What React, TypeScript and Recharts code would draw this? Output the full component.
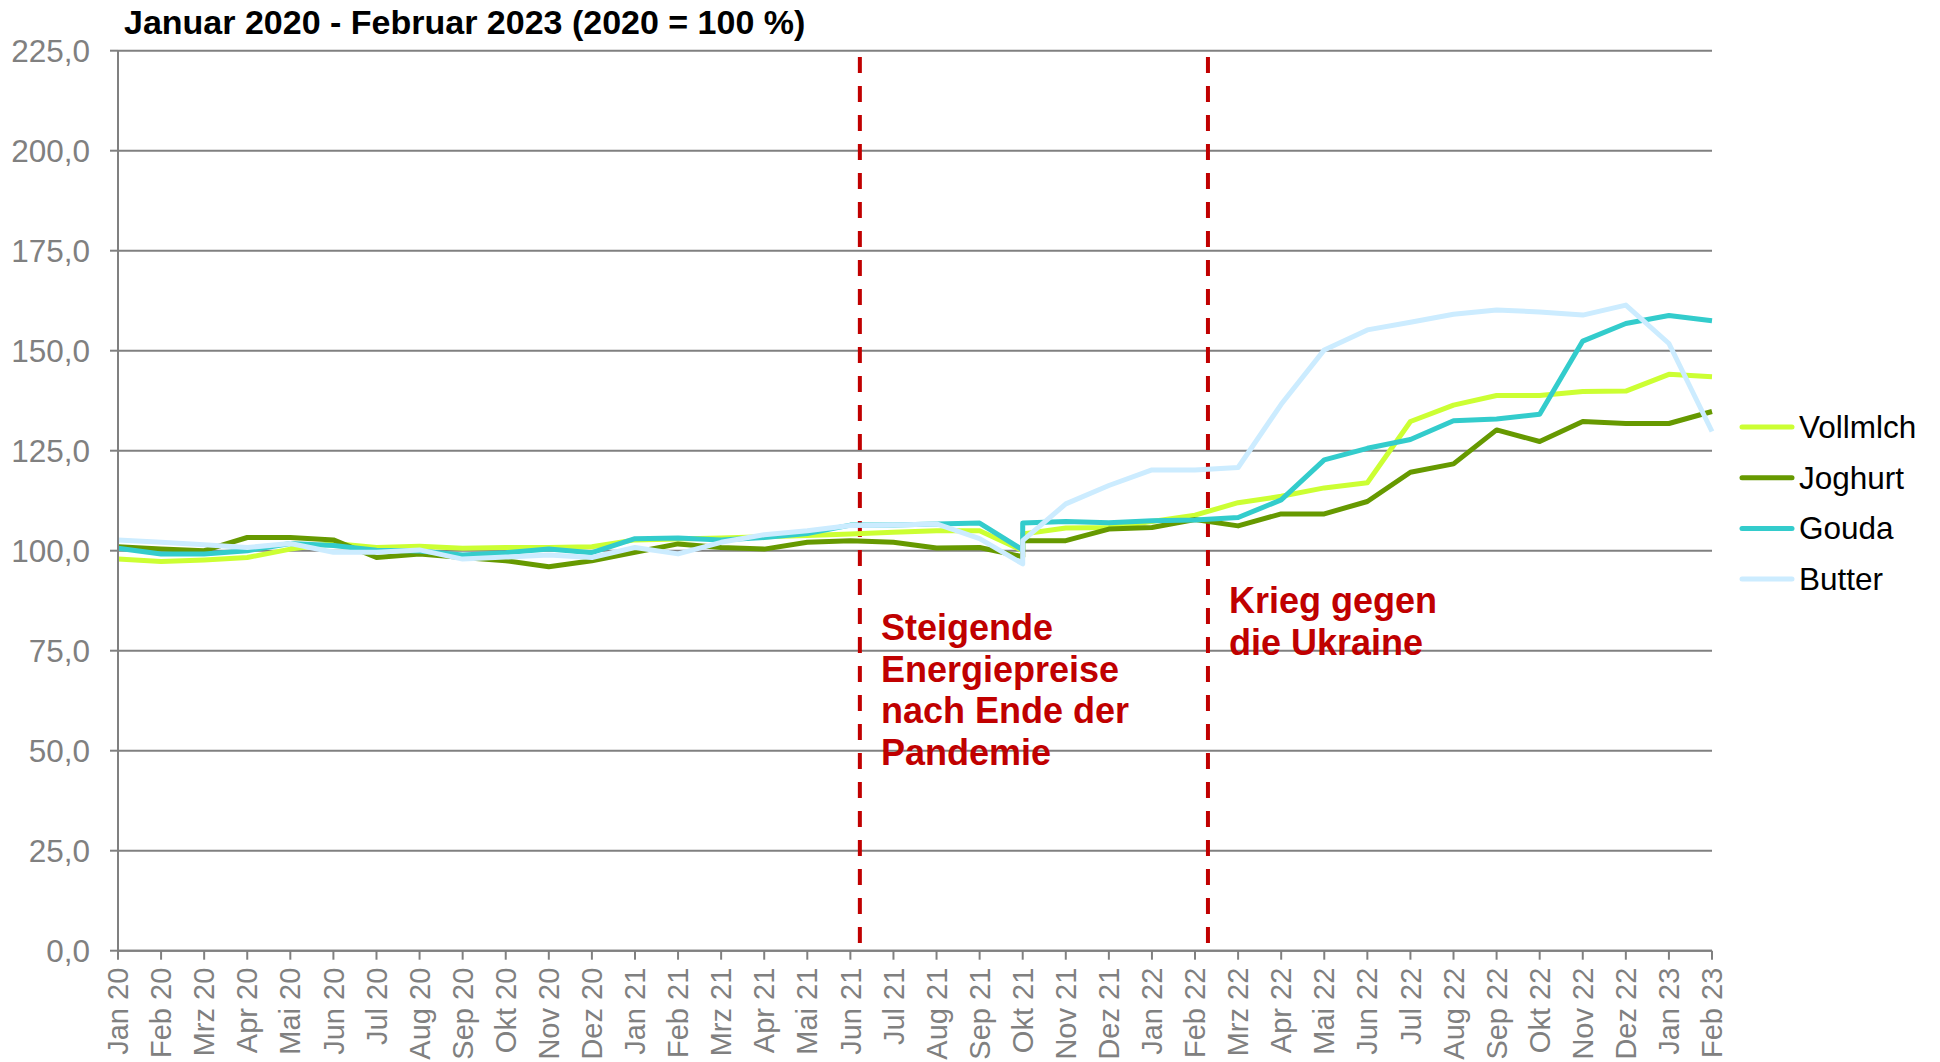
import { LineChart, Line, XAxis, YAxis, CartesianGrid, ReferenceLine } from "recharts";

const months = [
  "Jan 20", "Feb 20", "Mrz 20", "Apr 20", "Mai 20", "Jun 20", "Jul 20", "Aug 20", "Sep 20", "Okt 20", "Nov 20", "Dez 20",
  "Jan 21", "Feb 21", "Mrz 21", "Apr 21", "Mai 21", "Jun 21", "Jul 21", "Aug 21", "Sep 21", "Okt 21", "Nov 21", "Dez 21",
  "Jan 22", "Feb 22", "Mrz 22", "Apr 22", "Mai 22", "Jun 22", "Jul 22", "Aug 22", "Sep 22", "Okt 22", "Nov 22", "Dez 22",
  "Jan 23", "Feb 23",
];

// Okt 21 is in the series twice (the lines break there and jump up)
const okt21 = 21;

const vollmilch = [
  97.9, 97.3, 97.7, 98.3, 100.4, 101.8, 100.8, 101.1, 100.6, 100.8, 100.8, 101.0,
  102.7, 102.9, 103.2, 103.5, 103.8, 104.2, 104.6, 105.0, 105.0, 100.0, 104.2, 105.7, 105.8,
  107.3, 108.9, 112.0, 113.6, 115.7, 117.0, 132.3, 136.4, 138.8, 138.8, 139.8, 139.9,
  144.1, 143.5,
];
const joghurt = [
  101.0, 100.4, 100.0, 103.3, 103.3, 102.7, 98.3, 99.2, 98.3, 97.5, 96.0, 97.5,
  99.6, 101.7, 100.8, 100.4, 102.1, 102.5, 102.1, 100.7, 100.8, 98.5, 102.5, 102.5, 105.4,
  105.8, 107.8, 106.2, 109.2, 109.2, 112.3, 119.6, 121.7, 130.2, 127.3, 132.3, 131.8,
  131.8, 134.8,
];
const gouda = [
  100.6, 99.2, 99.2, 100.0, 101.8, 101.3, 100.1, 99.9, 98.9, 99.5, 100.4, 99.5,
  103.0, 103.2, 102.7, 103.3, 104.3, 106.4, 106.4, 106.7, 106.9, 100.2, 106.9, 107.3, 107.0,
  107.5, 107.7, 108.3, 112.7, 122.7, 125.6, 127.8, 132.5, 132.9, 134.1, 152.4, 156.8,
  158.8, 157.5,
];
const butter = [
  102.7, 102.1, 101.5, 100.8, 101.8, 99.6, 99.6, 100.2, 97.9, 98.4, 98.9, 98.3,
  100.8, 99.2, 102.1, 104.0, 105.0, 106.3, 106.4, 106.7, 103.0, 96.7, 102.5, 111.7, 116.3,
  120.2, 120.2, 120.8, 136.6, 150.2, 155.2, 157.1, 159.1, 160.2, 159.7, 158.9, 161.4,
  151.8, 129.8,
];

const yTicks = [0, 25, 50, 75, 100, 125, 150, 175, 200, 225];

const series = [
  { key: "vollmilch", name: "Vollmlch", color: "#CCFF33", values: vollmilch },
  { key: "joghurt", name: "Joghurt", color: "#669900", values: joghurt },
  { key: "gouda", name: "Gouda", color: "#33CCCC", values: gouda },
  { key: "butter", name: "Butter", color: "#CCECFF", values: butter },
];

const events = [
  { x: 17.22, lines: ["Steigende", "Energiepreise", "nach Ende der", "Pandemie"], left: 881, top: 640 },
  { x: 25.3, lines: ["Krieg gegen", "die Ukraine"], left: 1229, top: 613 },
];

const data = vollmilch.map((_, i) => {
  const row: Record<string, number> = { x: i <= okt21 ? i : i - 1 };
  series.forEach((s) => (row[s.key] = s.values[i]));
  return row;
});

const FONT = "'Liberation Sans', Arial, sans-serif";
const GRAY = "#808080";

const MonthTick = (props: any) => {
  const { x, y, payload } = props;
  return (
    <text
      x={x}
      y={y}
      transform={`rotate(-90, ${x}, ${y})`}
      textAnchor="end"
      dy="0.35em"
      fill={GRAY}
      fontSize={29}
      fontFamily={FONT}
    >
      {months[payload.value]}
    </text>
  );
};

export default function App() {
  return (
    <div style={{ position: "absolute", left: 0, top: 0, width: 1940, height: 1062, background: "#fff" }}>
      <LineChart
        width={1940}
        height={1062}
        data={data}
        margin={{ top: 50.7, right: 228, left: 18, bottom: 11.3 }}
      >
        <CartesianGrid vertical={false} stroke={GRAY} strokeWidth={2} />
        <XAxis
          type="number"
          dataKey="x"
          domain={[0, 37]}
          ticks={months.map((_, i) => i)}
          interval={0}
          height={100}
          tick={<MonthTick />}
          tickSize={9}
          tickMargin={8}
          axisLine={{ stroke: GRAY, strokeWidth: 2 }}
          tickLine={{ stroke: GRAY, strokeWidth: 2 }}
        />
        <YAxis
          domain={[0, 225]}
          ticks={yTicks}
          width={100}
          tickSize={8}
          tickMargin={20}
          tickFormatter={(v: number) => v.toFixed(1).replace(".", ",")}
          tick={{ fill: GRAY, fontSize: 31.5, fontFamily: FONT }}
          axisLine={{ stroke: GRAY, strokeWidth: 2 }}
          tickLine={{ stroke: GRAY, strokeWidth: 2 }}
        />
        {events.map((e) => (
          <ReferenceLine
            key={e.x}
            segment={[{ x: e.x, y: 223.4 }, { x: e.x, y: 0 }]}
            stroke="#C00000"
            strokeWidth={4}
            strokeDasharray="16 13"
          />
        ))}
        {series.map((s) => (
          <Line
            key={s.key}
            type="linear"
            dataKey={s.key}
            name={s.name}
            stroke={s.color}
            strokeWidth={5}
            strokeLinejoin="round"
            dot={false}
            isAnimationActive={false}
          />
        ))}
      </LineChart>
      <svg
        width={1940}
        height={1062}
        style={{ position: "absolute", left: 0, top: 0, pointerEvents: "none" }}
        fontFamily={FONT}
      >
        <text x={124} y={34} fontSize={34} fontWeight="bold" fill="#000">
          Januar 2020 - Februar 2023 (2020 = 100 %)
        </text>
        {events.map((e) => (
          <text key={e.x} fontSize={36} fontWeight="bold" fill="#C00000">
            {e.lines.map((l, i) => (
              <tspan key={l} x={e.left} y={e.top + i * 41.7}>
                {l}
              </tspan>
            ))}
          </text>
        ))}
        {series.map((s, i) => {
          const cy = 427 + i * 50.7;
          return (
            <g key={s.key}>
              <line x1={1742} x2={1792} y1={cy} y2={cy} stroke={s.color} strokeWidth={5} strokeLinecap="round" />
              <text x={1799} y={cy} dy="0.35em" fontSize={31.5} fill="#000">
                {s.name}
              </text>
            </g>
          );
        })}
      </svg>
    </div>
  );
}
